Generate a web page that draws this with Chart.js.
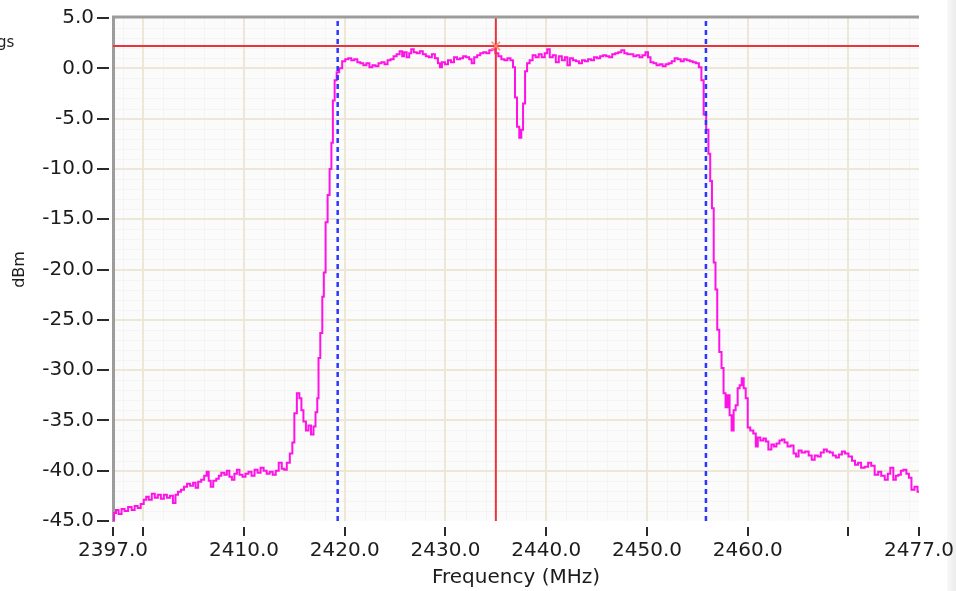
<!DOCTYPE html>
<html>
<head>
<meta charset="utf-8">
<script src="https://cdn.jsdelivr.net/npm/chart.js@4/dist/chart.umd.min.js"></script>
<style>
  html, body { margin: 0; padding: 0; background: #fff; }
  #wrap { position: relative; width: 956px; height: 591px; overflow: hidden; }
  #spectrum { position: absolute; left: 0; top: 0; }
  #cut-label { position: absolute; left: -3px; top: 33px; font: 15px "DejaVu Sans", sans-serif; color: #222; }
  #side-strip { position: absolute; right: 0; top: 0; width: 9px; height: 591px; background: linear-gradient(to right, #f8f8f8, #ececec); }
</style>
</head>
<body>
<div id="wrap">
  <div id="side-strip"></div>
  <canvas id="spectrum" width="956" height="591"></canvas>
  <div id="cut-label">gs</div>
</div>
<script>
// sweep readout (MHz / dBm)
const freqMHz = [
  2397.0, 2397.2, 2397.4, 2397.7, 2398.0, 2398.3, 2398.7, 2399.0, 2399.3, 2399.6,
  2399.9, 2400.2, 2400.4, 2400.7, 2401.0, 2401.3, 2401.6, 2401.9, 2402.2, 2402.5,
  2402.8, 2403.1, 2403.3, 2403.6, 2403.9, 2404.2, 2404.5, 2404.8, 2405.1, 2405.3,
  2405.6, 2405.9, 2406.2, 2406.4, 2406.6, 2406.8, 2407.1, 2407.4, 2407.6, 2407.9,
  2408.2, 2408.4, 2408.7, 2408.9, 2409.2, 2409.4, 2409.7, 2410.0, 2410.3, 2410.6,
  2410.9, 2411.2, 2411.5, 2411.8, 2412.1, 2412.4, 2412.7, 2413.0, 2413.3, 2413.6,
  2413.9, 2414.1, 2414.4, 2414.7, 2414.9, 2415.1, 2415.4, 2415.6, 2415.8, 2416.0,
  2416.3, 2416.5, 2416.8, 2417.0, 2417.2, 2417.35, 2417.45, 2417.7, 2417.85, 2418.0,
  2418.2, 2418.4, 2418.6, 2418.75, 2418.9, 2419.1, 2419.3, 2419.6, 2419.9, 2420.2,
  2420.5, 2420.8, 2421.1, 2421.4, 2421.7, 2422.0, 2422.3, 2422.6, 2422.9, 2423.2,
  2423.5, 2423.8, 2424.1, 2424.4, 2424.7, 2425.0, 2425.3, 2425.6, 2425.8, 2426.0,
  2426.3, 2426.5, 2426.7, 2427.0, 2427.3, 2427.6, 2427.9, 2428.2, 2428.5, 2428.8,
  2429.1, 2429.4, 2429.5, 2429.8, 2430.1, 2430.4, 2430.7, 2431.0, 2431.3, 2431.6,
  2431.9, 2432.2, 2432.5, 2432.7, 2433.0, 2433.3, 2433.6, 2433.9, 2434.2, 2434.5,
  2434.8, 2435.1, 2435.4, 2435.7, 2436.0, 2436.3, 2436.6, 2436.8, 2437.0, 2437.2,
  2437.45, 2437.6, 2437.8, 2438.0, 2438.2, 2438.5, 2438.8, 2439.1, 2439.4, 2439.7,
  2440.0, 2440.2, 2440.5, 2440.8, 2441.1, 2441.4, 2441.7, 2442.0, 2442.2, 2442.5,
  2442.8, 2443.1, 2443.4, 2443.7, 2444.0, 2444.3, 2444.6, 2444.9, 2445.2, 2445.5,
  2445.8, 2446.1, 2446.4, 2446.7, 2447.0, 2447.3, 2447.6, 2447.9, 2448.2, 2448.5,
  2448.8, 2449.1, 2449.4, 2449.7, 2450.0, 2450.2, 2450.5, 2450.8, 2451.1, 2451.4,
  2451.7, 2452.0, 2452.3, 2452.6, 2452.9, 2453.2, 2453.5, 2453.8, 2454.1, 2454.4,
  2454.7, 2455.0, 2455.3, 2455.5, 2455.75, 2456.0, 2456.2, 2456.35, 2456.55, 2456.7,
  2456.9, 2457.05, 2457.3, 2457.5, 2457.7, 2457.9, 2458.1, 2458.3, 2458.5, 2458.7,
  2458.9, 2459.1, 2459.3, 2459.5, 2459.7, 2459.9, 2460.1, 2460.4, 2460.7, 2460.9,
  2461.1, 2461.4, 2461.7, 2461.9, 2462.2, 2462.5, 2462.7, 2463.0, 2463.3, 2463.5,
  2463.8, 2464.1, 2464.4, 2464.7, 2464.9, 2465.2, 2465.5, 2465.9, 2466.2, 2466.5,
  2466.8, 2467.1, 2467.4, 2467.7, 2468.0, 2468.3, 2468.6, 2468.9, 2469.2, 2469.5,
  2469.8, 2470.2, 2470.5, 2470.8, 2471.1, 2471.4, 2471.8, 2472.1, 2472.4, 2472.8,
  2473.1, 2473.4, 2473.8, 2474.0, 2474.3, 2474.6, 2474.8, 2475.1, 2475.3, 2475.6,
  2475.9, 2476.1, 2476.4, 2476.7, 2477.0
];
const levelDbm = [
  -44.9, -44.2, -43.9, -44.3, -43.8, -44.0, -43.6, -43.9, -43.5, -43.7,
  -43.3, -42.9, -42.6, -42.9, -42.3, -42.7, -42.4, -42.8, -42.4, -42.7,
  -42.5, -43.2, -42.4, -42.1, -41.9, -41.6, -41.3, -41.5, -41.2, -41.7,
  -41.1, -40.9, -40.5, -40.1, -41.0, -41.6, -41.0, -40.8, -40.5, -40.2,
  -40.4, -40.0, -40.6, -40.9, -40.3, -39.9, -40.4, -40.6, -40.3, -40.1,
  -40.5, -39.9, -40.2, -39.7, -40.0, -40.3, -40.1, -40.4, -40.0, -39.2,
  -39.8, -39.9, -39.2, -38.3, -37.2, -34.3, -32.3, -32.8, -34.0, -35.1,
  -36.0, -35.5, -36.4, -35.6, -34.2, -32.8, -28.8, -26.3, -22.7, -20.3,
  -15.3, -12.6, -10.0, -7.4, -3.2, -1.2, -0.4, 0.0, 0.7, 0.9,
  1.0, 0.8, 0.9, 0.6, 0.5, 0.3, 0.5, 0.1, 0.3, 0.2,
  0.5, 0.6, 0.4, 0.8, 0.9, 1.2, 1.4, 1.7, 1.2, 1.6,
  1.1, 1.5, 1.9, 1.6, 1.5, 1.7, 1.4, 1.2, 1.1, 1.4,
  1.0, 0.5, 0.1, 0.6, 0.4, 0.8, 0.6, 1.1, 0.9, 1.0,
  1.2, 1.1, 0.9, 0.5, 1.1, 1.3, 1.5, 1.6, 1.5, 1.8,
  1.9, 1.5, 1.2, 0.9, 0.8, 1.0, 0.8, 0.1, -2.9, -5.8,
  -6.9, -6.1, -3.5, -0.3, 0.5, 0.8, 1.3, 1.1, 1.4, 1.1,
  1.5, 1.9, 1.1, 1.3, 0.6, 1.2, 0.8, 1.1, 0.3, 1.0,
  0.8, 0.7, 0.5, 0.8, 0.7, 0.9, 0.8, 1.1, 1.0, 1.2,
  1.3, 1.2, 1.1, 1.4, 1.5, 1.6, 1.8, 1.5, 1.4, 1.4,
  1.2, 1.3, 1.1, 1.3, 1.6, 1.1, 0.6, 0.5, 0.3, 0.4,
  0.2, 0.4, 0.5, 0.7, 1.0, 0.9, 0.7, 0.9, 0.8, 0.7,
  0.6, 0.5, 0.1, -1.2, -4.6, -6.1, -8.5, -11.2, -13.9, -19.3,
  -22.0, -26.0, -28.2, -29.8, -32.3, -33.7, -32.5, -34.5, -36.0, -34.0,
  -33.5, -31.8, -31.5, -30.8, -31.8, -32.8, -35.7, -36.0, -36.3, -37.6,
  -36.7, -37.0, -36.8, -37.1, -37.9, -37.4, -37.6, -37.3, -37.0, -36.9,
  -37.2, -37.6, -37.5, -38.3, -38.6, -38.0, -38.2, -38.1, -38.5, -38.9,
  -38.5, -38.6, -38.2, -37.9, -38.1, -38.2, -38.5, -38.7, -38.4, -38.1,
  -38.3, -38.6, -39.0, -39.4, -39.2, -39.7, -39.6, -39.2, -39.5, -40.4,
  -40.1, -40.5, -40.9, -40.3, -39.7, -40.9, -40.5, -40.4, -40.0, -39.9,
  -40.3, -40.7, -41.9, -41.6, -42.1
];

// cursors
const markerFreq = 2435.0;
const markerLevel = 2.22;
const bandEdges = [2419.3, 2455.85];

// axes
const xRange = [2397, 2477];
const yRange = [-45, 5];
const xTickValues = [2397, 2400, 2410, 2420, 2430, 2440, 2450, 2460, 2470, 2477];
const xLabelValues = [2397, 2410, 2420, 2430, 2440, 2450, 2460, 2477];

const GRID_MAJOR = "#ede7d6";
const GRID_MINOR = "#f4f4f4";
const FONT = "'DejaVu Sans', Verdana, sans-serif";

const tracePoints = freqMHz.map((f, i) => ({ x: f, y: levelDbm[i] }));

// bg + minor grid + tick dashes + top border
const plotFrame = {
  id: "plotFrame",
  beforeDraw(chart) {
    const { ctx, chartArea: a, scales } = chart;
    ctx.save();
    ctx.fillStyle = "#fbfbfb";
    ctx.fillRect(a.left, a.top, a.right - a.left, a.bottom - a.top);
    ctx.strokeStyle = GRID_MINOR;
    ctx.lineWidth = 1;
    for (let f = 2398; f < xRange[1]; f += 2) {
      const px = Math.round(scales.x.getPixelForValue(f)) + 0.5;
      ctx.beginPath(); ctx.moveTo(px, a.top); ctx.lineTo(px, a.bottom); ctx.stroke();
    }
    for (let v = yRange[0] + 1; v < yRange[1]; v++) {
      const py = Math.round(scales.y.getPixelForValue(v)) + 0.5;
      ctx.beginPath(); ctx.moveTo(a.left, py); ctx.lineTo(a.right, py); ctx.stroke();
    }
    ctx.restore();
  },
  afterDraw(chart) {
    const { ctx, chartArea: a, scales } = chart;
    ctx.save();
    ctx.strokeStyle = "#2a2a2a";
    ctx.lineWidth = 2;
    xTickValues.forEach((v) => {
      const px = Math.round(scales.x.getPixelForValue(v));
      ctx.beginPath(); ctx.moveTo(px, a.bottom + 6); ctx.lineTo(px, a.bottom + 15); ctx.stroke();
    });
    for (let v = yRange[0]; v <= yRange[1]; v += 5) {
      const py = Math.round(scales.y.getPixelForValue(v));
      ctx.beginPath(); ctx.moveTo(a.left - 16, py); ctx.lineTo(a.left - 4, py); ctx.stroke();
    }
    // top frame
    ctx.strokeStyle = "#9c9c9c";
    ctx.lineWidth = 3;
    ctx.beginPath(); ctx.moveTo(a.left - 1, a.top - 1); ctx.lineTo(a.right, a.top - 1); ctx.stroke();
    ctx.restore();
  },
};

const edgeTick = (v, lo, hi) => v === lo || v === hi;

// chart.js reserves room for edge labels + tick padding; the frame is fixed here
function noOverhang(scale) {
  scale.paddingLeft = 0;
  scale.paddingRight = 0;
  scale.paddingTop = 0;
  scale.paddingBottom = 0;
}

const chart = new Chart(document.getElementById("spectrum"), {
  type: "line",
  data: {
    datasets: [
      {
        label: "trace",
        data: tracePoints,
        borderColor: "#ff12e6",
        borderWidth: 2,
        pointRadius: 0,
        stepped: "middle",
        order: 5,
      },
      {
        label: "edge lo",
        data: [{ x: bandEdges[0], y: yRange[0] }, { x: bandEdges[0], y: yRange[1] }],
        borderColor: "#2b36ff",
        borderWidth: 2.5,
        borderDash: [5, 4],
        pointRadius: 0,
        order: 3,
      },
      {
        label: "edge hi",
        data: [{ x: bandEdges[1], y: yRange[0] }, { x: bandEdges[1], y: yRange[1] }],
        borderColor: "#2b36ff",
        borderWidth: 2.5,
        borderDash: [5, 4],
        pointRadius: 0,
        order: 3,
      },
      {
        label: "cursor h",
        data: [{ x: xRange[0], y: markerLevel }, { x: xRange[1], y: markerLevel }],
        borderColor: "#e8343a",
        borderWidth: 2,
        pointRadius: 0,
        order: 2,
      },
      {
        label: "cursor v",
        data: [{ x: markerFreq, y: yRange[0] }, { x: markerFreq, y: yRange[1] }],
        borderColor: "#e8343a",
        borderWidth: 2,
        pointRadius: 0,
        order: 2,
      },
      {
        label: "marker",
        data: [{ x: markerFreq, y: markerLevel }],
        showLine: false,
        pointStyle: "crossRot",
        pointRadius: 6,
        pointBorderWidth: 1.5,
        pointBorderColor: "#ff8a70",
        order: 1,
      },
    ],
  },
  options: {
    responsive: false,
    animation: false,
    devicePixelRatio: 1,
    layout: { padding: { top: 18, right: 37, left: 0, bottom: 0 } },
    plugins: { legend: { display: false }, tooltip: { enabled: false } },
    scales: {
      x: {
        type: "linear",
        min: xRange[0],
        max: xRange[1],
        afterBuildTicks: (scale) => { scale.ticks = xTickValues.map((v) => ({ value: v })); },
        afterFit: (scale) => { scale.height = 70; noOverhang(scale); },
        ticks: {
          autoSkip: false,
          maxRotation: 0,
          minRotation: 0,
          padding: 18,
          color: "#1c1c1c",
          font: { family: FONT, size: 20 },
          callback: (v) => (xLabelValues.includes(v) ? v.toFixed(1) : ""),
        },
        grid: {
          drawTicks: false,
          lineWidth: 2,
          color: (c) => (c.tick && edgeTick(c.tick.value, xRange[0], xRange[1]) ? "rgba(0,0,0,0)" : GRID_MAJOR),
        },
        border: { display: false },
        title: {
          display: true,
          text: "Frequency (MHz)",
          color: "#1c1c1c",
          font: { family: FONT, size: 20 },
          padding: { top: 0, bottom: 1 },
        },
      },
      y: {
        min: yRange[0],
        max: yRange[1],
        afterFit: (scale) => { scale.width = 113; noOverhang(scale); },
        ticks: {
          stepSize: 5,
          padding: 19,
          color: "#1c1c1c",
          font: { family: FONT, size: 20 },
          callback: (v) => v.toFixed(1),
        },
        grid: {
          drawTicks: false,
          lineWidth: 2,
          color: (c) => (c.tick && edgeTick(c.tick.value, yRange[0], yRange[1]) ? "rgba(0,0,0,0)" : GRID_MAJOR),
        },
        border: { color: "#9c9c9c", width: 3 },
        title: {
          display: true,
          text: "dBm",
          color: "#1c1c1c",
          font: { family: FONT, size: 16 },
          padding: { top: 10, bottom: 0 },
        },
      },
    },
  },
  plugins: [plotFrame],
});
console.log(chart.chartArea);
</script>
</body>
</html>
